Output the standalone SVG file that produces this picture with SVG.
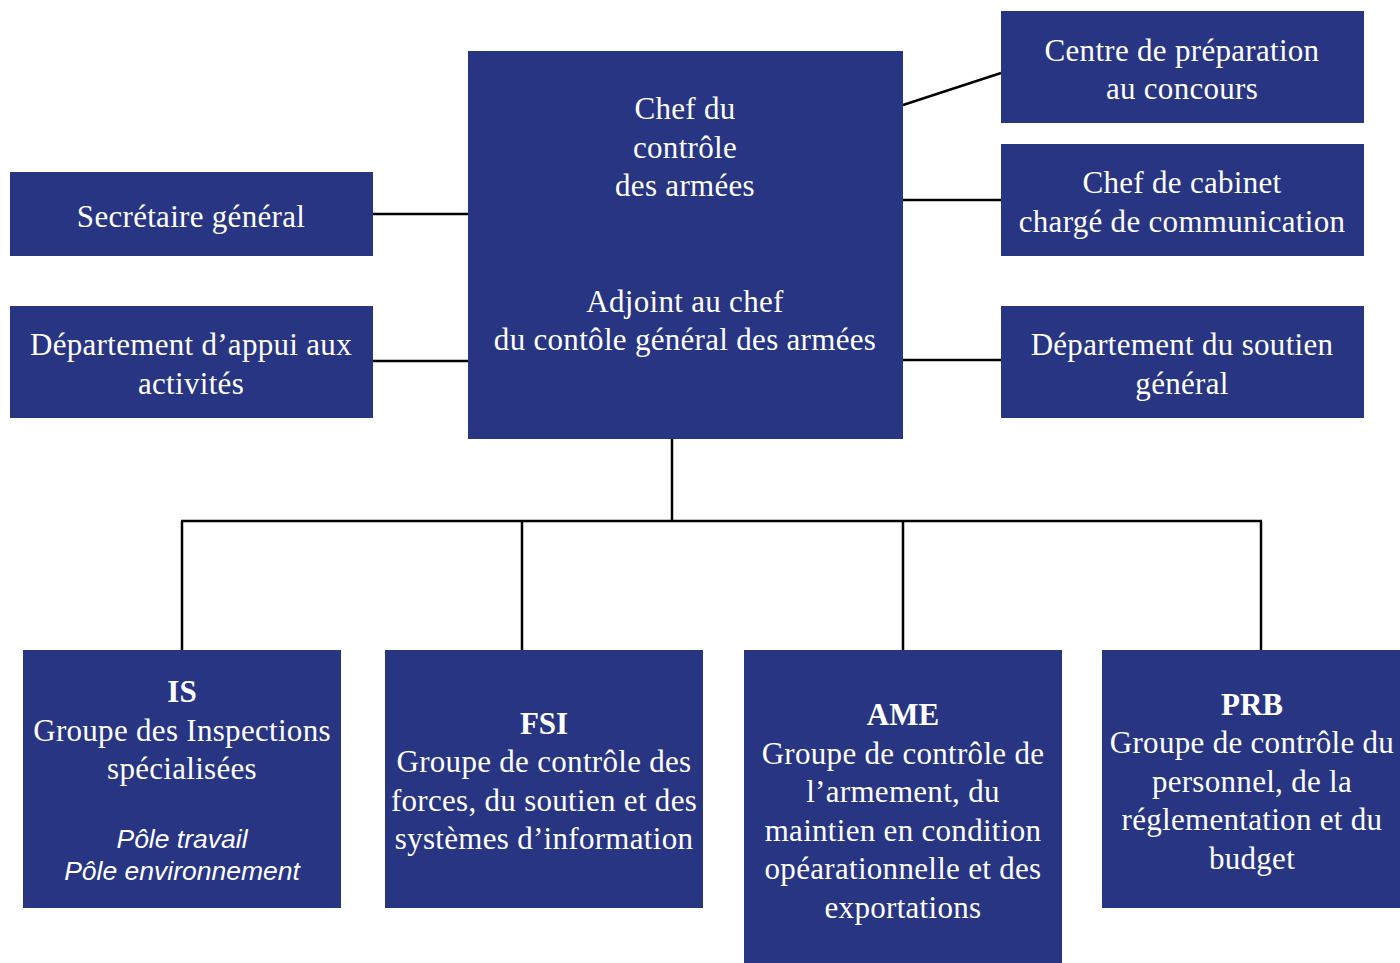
<svg xmlns="http://www.w3.org/2000/svg" width="1400" height="963" viewBox="0 0 1400 963">
<style>
.box{fill:#283583}
.t{font-family:"Liberation Serif","Times New Roman",serif;font-size:31px;letter-spacing:0.3px;fill:#ffffff;text-anchor:middle}
.b{font-weight:bold;letter-spacing:0}
.i{font-family:"Liberation Sans",Arial,sans-serif;font-style:italic;font-size:26.5px;fill:#ffffff;text-anchor:middle}
.ln{stroke:#000;stroke-width:2.5;fill:none}
</style>
<rect width="1400" height="963" fill="#ffffff"/>
<g id="connectors">
<line class="ln" x1="373" y1="214" x2="468" y2="214"/>
<line class="ln" x1="373" y1="361" x2="468" y2="361"/>
<line class="ln" x1="903" y1="105" x2="1001" y2="73"/>
<line class="ln" x1="903" y1="200" x2="1001" y2="200"/>
<line class="ln" x1="903" y1="360" x2="1001" y2="360"/>
<line class="ln" x1="672" y1="439" x2="672" y2="521"/>
<line class="ln" x1="181" y1="521" x2="1262" y2="521"/>
<line class="ln" x1="182" y1="521" x2="182" y2="650"/>
<line class="ln" x1="522" y1="521" x2="522" y2="650"/>
<line class="ln" x1="903" y1="521" x2="903" y2="650"/>
<line class="ln" x1="1261" y1="521" x2="1261" y2="650"/>
</g>
<g id="chef">
<rect class="box" x="468" y="51" width="435" height="388"/>
<text class="t" x="685" y="118.5">Chef du</text>
<text class="t" x="685" y="157.5">contrôle</text>
<text class="t" x="685" y="195.5">des armées</text>
<text class="t" x="685" y="311.5">Adjoint au chef</text>
<text class="t" x="685" y="349.5">du contôle général des armées</text>
</g>
<g id="secretaire">
<rect class="box" x="10" y="172" width="363" height="84"/>
<text class="t" x="191" y="226.5">Secrétaire général</text>
</g>
<g id="appui">
<rect class="box" x="10" y="306" width="363" height="112"/>
<text class="t" x="191" y="354.5">Département d’appui aux</text>
<text class="t" x="191" y="393.5">activités</text>
</g>
<g id="centre">
<rect class="box" x="1001" y="11" width="363" height="112"/>
<text class="t" x="1182" y="60.5">Centre de préparation</text>
<text class="t" x="1182" y="98.5">au concours</text>
</g>
<g id="cabinet">
<rect class="box" x="1001" y="144" width="363" height="112"/>
<text class="t" x="1182" y="192.5">Chef de cabinet</text>
<text class="t" x="1182" y="231.5">chargé de communication</text>
</g>
<g id="soutien">
<rect class="box" x="1001" y="306" width="363" height="112"/>
<text class="t" x="1182" y="354.5">Département du soutien</text>
<text class="t" x="1182" y="393.5">général</text>
</g>
<g id="is">
<rect class="box" x="23" y="650" width="318" height="258"/>
<text class="t b" x="182" y="701.5">IS</text>
<text class="t" x="182" y="740.5">Groupe des Inspections</text>
<text class="t" x="182" y="778.5">spécialisées</text>
<text class="i" x="182" y="848">Pôle travail</text>
<text class="i" x="182" y="880">Pôle environnement</text>
</g>
<g id="fsi">
<rect class="box" x="385" y="650" width="318" height="258"/>
<text class="t b" x="544" y="733.5">FSI</text>
<text class="t" x="544" y="771.5">Groupe de contrôle des</text>
<text class="t" x="544" y="810.5">forces, du soutien et des</text>
<text class="t" x="544" y="848.5">systèmes d’information</text>
</g>
<g id="ame">
<rect class="box" x="744" y="650" width="318" height="313"/>
<text class="t b" x="903" y="724.5">AME</text>
<text class="t" x="903" y="763.5">Groupe de contrôle de</text>
<text class="t" x="903" y="801.5">l’armement, du</text>
<text class="t" x="903" y="840.5">maintien en condition</text>
<text class="t" x="903" y="878.5">opéarationnelle et des</text>
<text class="t" x="903" y="917.5">exportations</text>
</g>
<g id="prb">
<rect class="box" x="1102" y="650" width="298" height="258"/>
<text class="t b" x="1252" y="714.5">PRB</text>
<text class="t" x="1252" y="752.5">Groupe de contrôle du</text>
<text class="t" x="1252" y="791.5">personnel, de la</text>
<text class="t" x="1252" y="829.5">réglementation et du</text>
<text class="t" x="1252" y="868.5">budget</text>
</g>
</svg>
